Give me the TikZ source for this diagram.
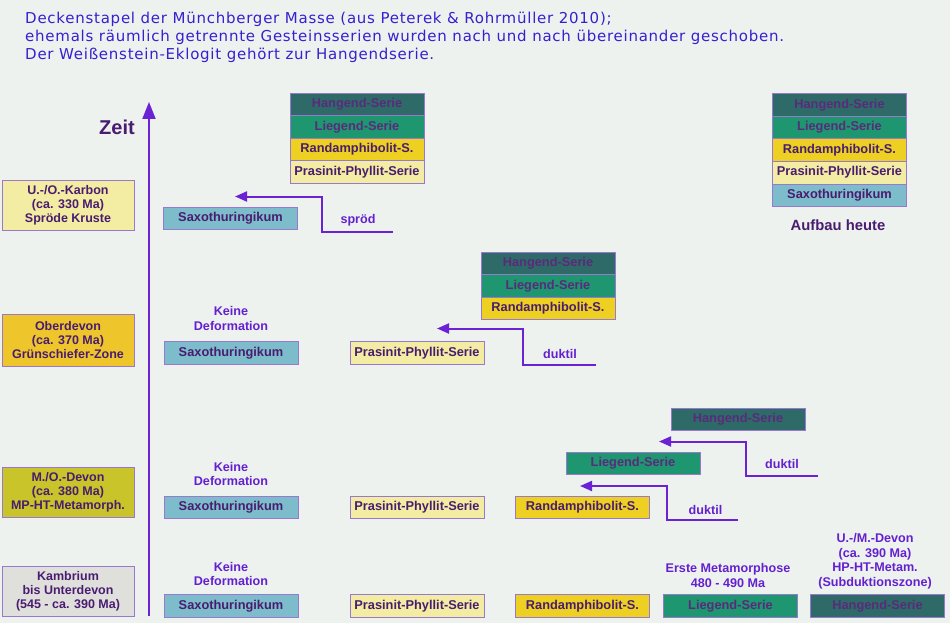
\documentclass[tikz,border=0pt]{standalone}
\usepackage{fontspec}
\setmainfont{Liberation Sans}
\newfontfamily\titlefont[LetterSpace=5]{DejaVu Sans}
\usetikzlibrary{arrows.meta}
\definecolor{bgc}{HTML}{EDF2EE}
\definecolor{hangc}{HTML}{2E6B68}
\definecolor{liegc}{HTML}{1E9670}
\definecolor{randc}{HTML}{EDD022}
\definecolor{prasc}{HTML}{F2EDA2}
\definecolor{saxoc}{HTML}{7DBCCB}
\definecolor{oberc}{HTML}{EEC62C}
\definecolor{devc}{HTML}{C8C42A}
\definecolor{kambc}{HTML}{DFE0DC}
\definecolor{edgec}{HTML}{9A78D0}
\definecolor{boxtxt}{HTML}{4A1C70}
\definecolor{darktxt}{HTML}{5A2A7C}
\definecolor{lblc}{HTML}{6420D0}
\definecolor{titlec}{HTML}{3A1ECF}
\definecolor{arrc}{HTML}{6A22D4}
\tikzset{
  layer/.style={draw=edgec, line width=0.8pt, outer sep=0pt, inner sep=0pt,
    minimum width=134pt, minimum height=22.6pt, text=boxtxt,
    font=\bfseries\fontsize{12.8}{14}\selectfont},
  hang/.style={layer, fill=hangc, text=darktxt},
  lieg/.style={layer, fill=liegc, text=darktxt},
  rand/.style={layer, fill=randc},
  pras/.style={layer, fill=prasc},
  saxo/.style={layer, fill=saxoc},
  epoch/.style={draw=edgec, line width=0.8pt, inner sep=0pt, minimum width=132pt,
    minimum height=50pt, align=center, text=boxtxt,
    font=\bfseries\fontsize{12.5}{14}\selectfont},
  note/.style={text=lblc, align=center, inner sep=0pt,
    font=\bfseries\fontsize{12.6}{14.5}\selectfont},
  shiftarr/.style={draw=arrc, line width=2pt, -{Triangle[length=12pt,width=10pt]}},
  titleline/.style={anchor=base west, inner sep=0pt, text=titlec,
    font=\titlefont\fontsize{15}{17}\selectfont},
}
\begin{document}
\begin{tikzpicture}[x=1pt,y=-1pt]
\fill[bgc] (0,0) rectangle (950,623);
\useasboundingbox (0,0) rectangle (950,623);

% title
\node[titleline] (t1) at (25,23.5) {Deckenstapel der Münchberger Masse (aus Peterek \& Rohrmüller 2010);};
\node[titleline] (t2) at (25,42) {ehemals räumlich getrennte Gesteinsserien wurden nach und nach übereinander geschoben.};
\node[titleline] (t3) at (25,60) {Der Weißenstein-Eklogit gehört zur Hangendserie.};

% time axis
\coordinate (zb) at (149,616);
\coordinate (zt) at (149,102);
\draw[draw=arrc, line width=2pt, -{Triangle[length=17pt,width=13pt]}] (zb) -- (zt);
\node[text=boxtxt, font=\bfseries\fontsize{20}{22}\selectfont, inner sep=0pt] (zeit) at (117,127) {Zeit};

% epoch boxes
\node[epoch, fill=prasc] (e1) at (68,205) {U.-/O.-Karbon\\(ca. 330 Ma)\\Spröde Kruste};
\node[epoch, fill=oberc, minimum height=52pt] (e2) at (68,340) {Oberdevon\\(ca. 370 Ma)\\Grünschiefer-Zone};
\node[epoch, fill=devc] (e3) at (68,492.5) {M./O.-Devon\\(ca. 380 Ma)\\MP-HT-Metamorph.};
\node[epoch, fill=kambc] (e4) at (68,591) {Kambrium\\bis Unterdevon\\(545 - ca. 390 Ma)};

% row 1 (Karbon)
\node[hang] (a1) at (357,104.3) {Hangend-Serie};
\node[lieg, anchor=north] (a2) at (a1.south) {Liegend-Serie};
\node[rand, anchor=north] (a3) at (a2.south) {Randamphibolit-S.};
\node[pras, anchor=north] (a4) at (a3.south) {Prasinit-Phyllit-Serie};
\node[saxo] (a5) at (230.5,218.5) {Saxothuringikum};
\coordinate (s1) at (393,231.5);
\coordinate (s2) at (322,231.5);
\coordinate (s3) at (235,196.5);
\draw[shiftarr] (s1) -- (s2) |- (s3);
\node[note] (sl) at (358,220) {spröd};

% today
\node[hang] (h1) at (839.5,104.8) {Hangend-Serie};
\node[lieg, anchor=north] (h2) at (h1.south) {Liegend-Serie};
\node[rand, anchor=north] (h3) at (h2.south) {Randamphibolit-S.};
\node[pras, anchor=north] (h4) at (h3.south) {Prasinit-Phyllit-Serie};
\node[saxo, anchor=north] (h5) at (h4.south) {Saxothuringikum};
\node[text=boxtxt, font=\bfseries\fontsize{14.8}{16}\selectfont, inner sep=0pt] (hl) at (838,225) {Aufbau heute};

% row 2 (Oberdevon)
\node[note] (k2) at (231,318.5) {Keine\\Deformation};
\node[saxo] (b1) at (231,353) {Saxothuringikum};
\node[pras] (b2) at (417,353) {Prasinit-Phyllit-Serie};
\node[hang] (b3) at (548,263.3) {Hangend-Serie};
\node[lieg, anchor=north] (b4) at (b3.south) {Liegend-Serie};
\node[rand, anchor=north] (b5) at (b4.south) {Randamphibolit-S.};
\coordinate (d1) at (596,364.5);
\coordinate (d2) at (523,364.5);
\coordinate (d3) at (437,328.5);
\draw[shiftarr] (d1) -- (d2) |- (d3);
\node[note] (dl1) at (560,353.5) {duktil};

% row 3 (M./O.-Devon)
\node[note] (k3) at (231,474) {Keine\\Deformation};
\node[saxo] (c1) at (231,507.5) {Saxothuringikum};
\node[pras] (c2) at (417,507.5) {Prasinit-Phyllit-Serie};
\node[rand] (c3) at (582.5,507.5) {Randamphibolit-S.};
\node[lieg] (c4) at (633,463.5) {Liegend-Serie};
\node[hang] (c5) at (738,419.5) {Hangend-Serie};
\coordinate (f1) at (738,519.5);
\coordinate (f2) at (667,519.5);
\coordinate (f3) at (580,486);
\draw[shiftarr] (f1) -- (f2) |- (f3);
\node[note] (fl) at (705.5,509.5) {duktil};
\coordinate (g1) at (818,475.5);
\coordinate (g2) at (746,475.5);
\coordinate (g3) at (659,441.5);
\draw[shiftarr] (g1) -- (g2) |- (g3);
\node[note] (gl) at (782,464) {duktil};

% row 4 (Kambrium)
\node[note] (k4) at (231,574) {Keine\\Deformation};
\node[saxo] (r1) at (231,606) {Saxothuringikum};
\node[pras] (r2) at (417,606) {Prasinit-Phyllit-Serie};
\node[rand] (r3) at (582.5,606) {Randamphibolit-S.};
\node[lieg] (r4) at (730.5,606) {Liegend-Serie};
\node[hang] (r5) at (877.5,606) {Hangend-Serie};
\node[note] (m1) at (728,575.5) {Erste Metamorphose\\480 - 490 Ma};
\node[note] (m2) at (875,561) {U.-/M.-Devon\\(ca. 390 Ma)\\HP-HT-Metam.\\(Subduktionszone)};
\end{tikzpicture}
\end{document}
